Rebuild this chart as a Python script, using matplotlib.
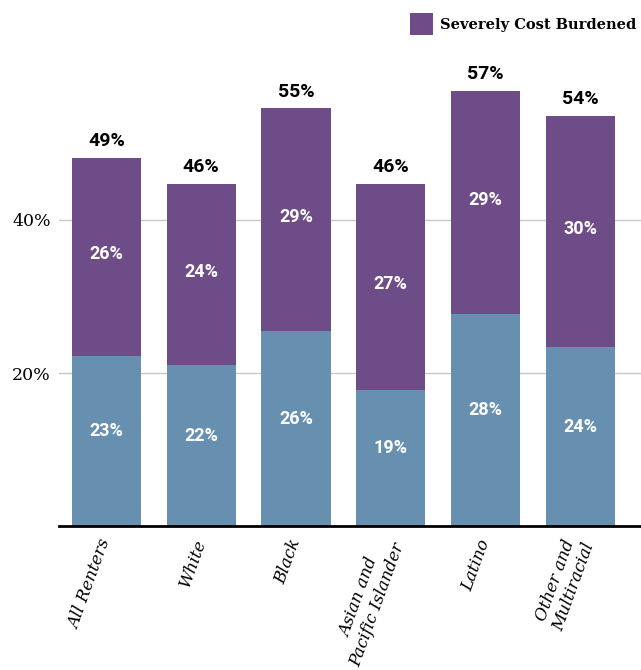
import matplotlib.pyplot as plt
import numpy as np

categories = ["All Renters", "White", "Black", "Asian and\nPacific Islander",
              "Latino", "Other and\nMultiracial"]
moderate = [22.2, 21.0, 25.5, 17.8, 27.7, 23.4]
severe = [25.9, 23.7, 29.1, 26.9, 29.2, 30.2]
moderate_labels = ["23%", "22%", "26%", "19%", "28%", "24%"]
severe_labels = ["26%", "24%", "29%", "27%", "29%", "30%"]
total_labels = ["49%", "46%", "55%", "46%", "57%", "54%"]

blue = "#668fb0"
purple = "#6e4c87"

fig = plt.figure(figsize=(6.41, 6.70), dpi=100)
ax = fig.add_axes([59 / 641, 144 / 670, 582 / 641, 459 / 670])

x = np.arange(len(categories))
b1 = ax.bar(x, moderate, width=0.73, color=blue, zorder=2,
            label="Moderately Cost Burdened")
b2 = ax.bar(x, severe, width=0.73, bottom=moderate, color=purple, zorder=2,
            label="Severely Cost Burdened")

for i in range(len(x)):
    ax.annotate(moderate_labels[i], (x[i], moderate[i] / 2), xytext=(0, 7),
                textcoords="offset points", ha="center", va="center",
                color="white", fontsize=13, fontweight="bold", family="Roboto")
    ax.annotate(severe_labels[i], (x[i], moderate[i] + severe[i] / 2),
                xytext=(0, 2), textcoords="offset points", ha="center",
                va="center", color="white", fontsize=13, fontweight="bold",
                family="Roboto")
    ax.annotate(total_labels[i], (x[i], moderate[i] + severe[i]),
                xytext=(0, 12), textcoords="offset points", ha="center",
                va="center", color="black", fontsize=14, fontweight="bold",
                family="Roboto")

ax.set_xlim(-0.5, -0.5 + 582 / 94.8)
ax.set_ylim(0, 60)
ax.set_yticks([20, 40])
ax.set_yticklabels(["20%", "40%"], family="DejaVu Serif", fontsize=12.5)
ax.yaxis.grid(True, color="#c8c8c8", linewidth=1, zorder=0)
ax.tick_params(axis="y", length=0, pad=6)
ax.tick_params(axis="x", length=0, pad=10)
ax.set_xticks(x)
ax.set_xticklabels(categories, rotation=70, rotation_mode="anchor",
                   ha="right", va="center", multialignment="center",
                   family="DejaVu Serif", style="italic", fontsize=12)
for s in ["top", "right", "left"]:
    ax.spines[s].set_visible(False)
ax.spines["bottom"].set_linewidth(2)
ax.spines["bottom"].set_zorder(3)

fig.legend(handles=[b2], loc="upper right",
           bbox_to_anchor=(1.0, 1 - 9 / 670), frameon=False,
           prop={"family": "DejaVu Serif", "weight": "bold", "size": 10.5},
           handlelength=1.55, handleheight=1.9, handletextpad=0.5,
           borderaxespad=0, borderpad=0.3)

fig.savefig("out.png", dpi=100)
